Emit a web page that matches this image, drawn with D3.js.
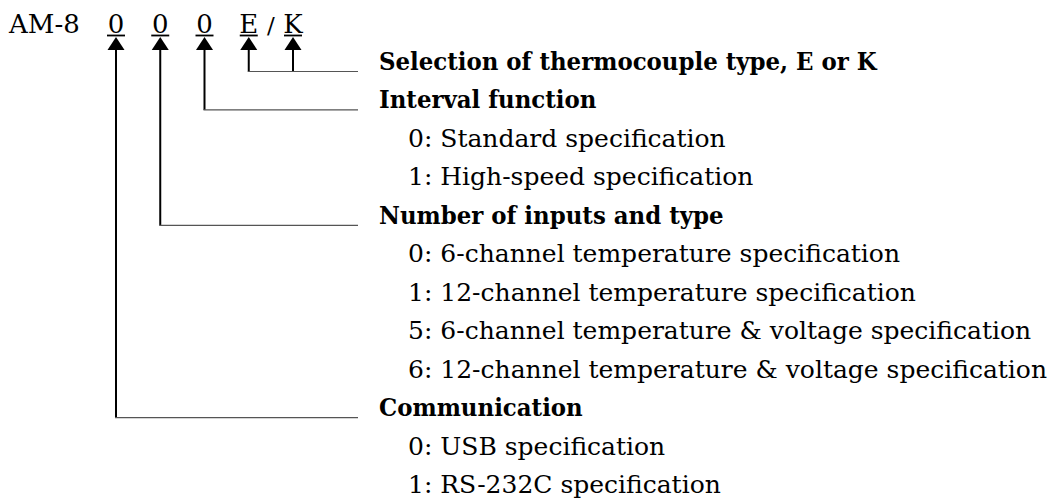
<!DOCTYPE html>
<html lang="en">
<head>
<meta charset="UTF-8">
<title>AM-8 model code</title>
<style>
  html, body { margin: 0; padding: 0; background: #fff; }
  svg { display: block; }
  text { font-family: "DejaVu Serif", serif; fill: #000; }
  .head { font-weight: bold; }
</style>
</head>
<body>
<div id="chart"></div>
<script src="https://d3js.org/d3.v7.min.js"></script>
<script>
const modelPrefix = "AM-8";
const codeChars = ["0", "0", "0", "E", "K"];
const groupTitles = [
  "Selection of thermocouple type, E or K",
  "Interval function",
  "Number of inputs and type",
  "Communication"
];
// which code positions point at each group
const groupCodes = [[3, 4], [2], [1], [0]];
const groupItems = [
  [],
  ["0: Standard specification", "1: High-speed specification"],
  ["0: 6-channel temperature specification", "1: 12-channel temperature specification",
   "5: 6-channel temperature & voltage specification", "6: 12-channel temperature & voltage specification"],
  ["0: USB specification", "1: RS-232C specification"]
];

const width = 1059, height = 504;
const fontSize = 25;
const topFont = 26;
const boldSqueeze = 0.915;

const svg = d3.select('#chart').append('svg')
  .attr('width', width).attr('height', height);

// flatten groups into rows
const rows = [];
groupTitles.forEach((t, g) => {
  rows.push({ text: t, head: true, group: g });
  groupItems[g].forEach(it => rows.push({ text: it, head: false, group: g }));
});

const y = d3.scaleLinear().domain([0, rows.length - 1]).range([70, 493]);
const x = d3.scalePoint().domain(d3.range(codeChars.length)).range([116, 293]);
const topBase = 33;
const textX = 379, itemX = 408, lineEnd = 358;

// top code line
svg.append('text').attr('x', 9).attr('y', topBase)
  .style('font-size', topFont + 'px').text(modelPrefix);

const code = svg.append('g');
code.selectAll('text.code').data(codeChars).join('text')
  .attr('class', 'code')
  .attr('x', (d, i) => x(i)).attr('y', topBase)
  .attr('text-anchor', 'middle')
  .style('font-size', topFont + 'px')
  .text(d => d);
code.append('text')
  .attr('x', (x(3) + x(4)) / 2).attr('y', topBase)
  .attr('text-anchor', 'middle')
  .style('font-size', (topFont - 3) + 'px')
  .text('/');
code.selectAll('line.ul').data(codeChars).join('line')
  .attr('class', 'ul')
  .attr('x1', (d, i) => x(i) - 9).attr('x2', (d, i) => x(i) + 9)
  .attr('y1', topBase + 2.5).attr('y2', topBase + 2.5)
  .attr('stroke', '#000').attr('stroke-width', 1.8);

// arrows
const links = [];
groupCodes.forEach((cs, g) => cs.forEach(c => links.push({ c, g })));
const headRowY = g => y(rows.findIndex(r => r.head && r.group === g)) + 1.5;

svg.selectAll('path.arrow').data(links).join('path')
  .attr('class', 'arrow')
  .attr('d', d => {
    const cx = x(d.c), t = topBase + 4;
    return `M${cx},${t}L${cx - 8.5},${t + 13}L${cx + 8.5},${t + 13}Z`;
  })
  .attr('fill', '#000');

svg.selectAll('line.stem').data(links).join('line')
  .attr('class', 'stem')
  .attr('x1', d => x(d.c)).attr('x2', d => x(d.c))
  .attr('y1', topBase + 16).attr('y2', d => headRowY(d.g))
  .attr('stroke', '#000').attr('stroke-width', 2);

svg.selectAll('line.leader').data(groupCodes).join('line')
  .attr('class', 'leader')
  .attr('x1', d => x(d3.min(d)) - 1).attr('x2', lineEnd)
  .attr('y1', (d, g) => headRowY(g)).attr('y2', (d, g) => headRowY(g))
  .attr('stroke', '#555').attr('stroke-width', 1.2);

// labels
svg.selectAll('text.row').data(rows).join('text')
  .attr('class', d => 'row' + (d.head ? ' head' : ''))
  .attr('x', d => d.head ? textX : itemX)
  .attr('y', (d, i) => y(i))
  .style('font-size', fontSize + 'px')
  .text(d => d.text)
  .filter(d => d.head)
  .each(function () {
    const w = this.getComputedTextLength();
    d3.select(this).attr('textLength', w * boldSqueeze).attr('lengthAdjust', 'spacingAndGlyphs');
  });
</script>
</body>
</html>
